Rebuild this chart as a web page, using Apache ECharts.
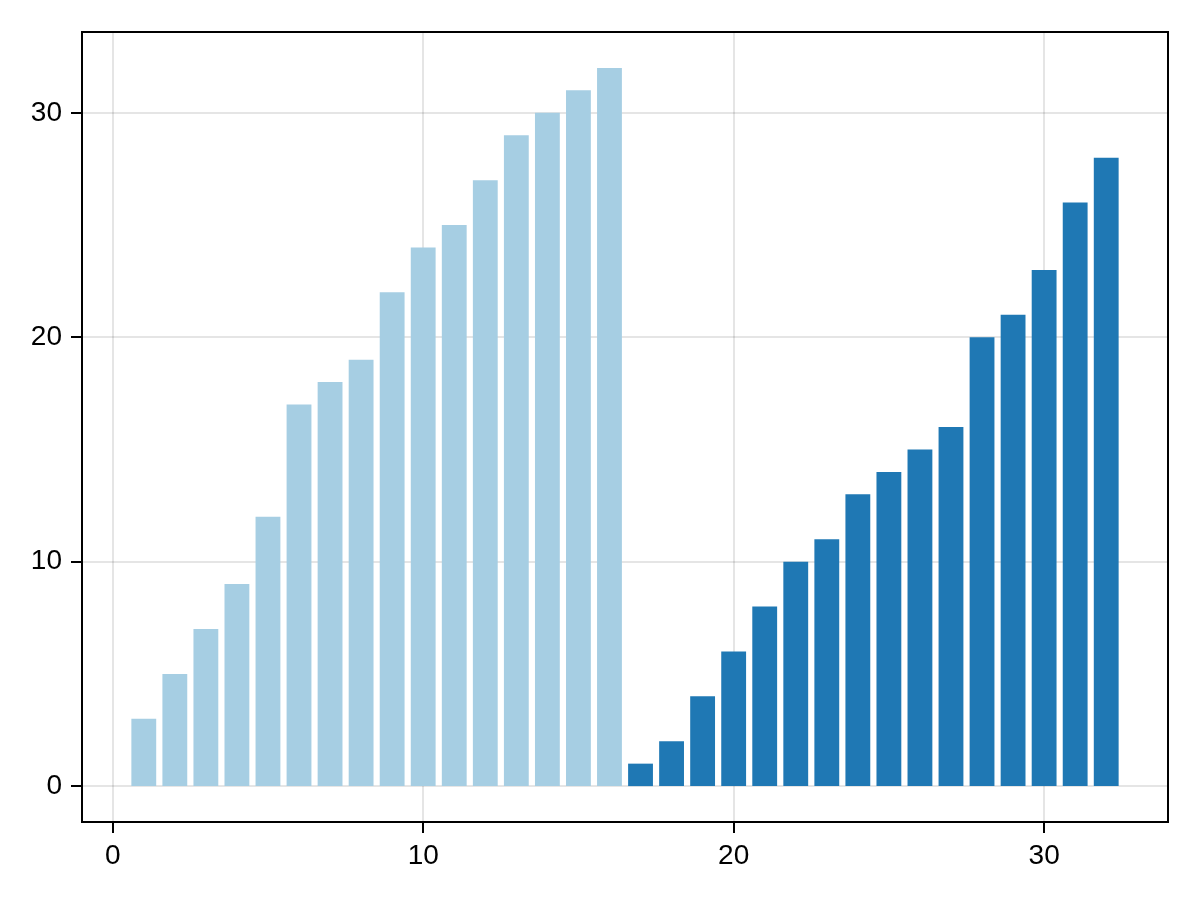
<!DOCTYPE html>
<html>
<head>
<meta charset="utf-8">
<script src="https://cdn.jsdelivr.net/npm/echarts@6/dist/echarts.min.js"></script>
<style>
html, body { margin: 0; padding: 0; background: #fff; }
#chart { width: 1200px; height: 900px; }
</style>
</head>
<body>
<div id="chart"></div>
<script>
// bar positions and heights
var xFirst = [1, 2, 3, 4, 5, 6, 7, 8, 9, 10, 11, 12, 13, 14, 15, 16];
var valuesFirst = [3, 5, 7, 9, 12, 17, 18, 19, 22, 24, 25, 27, 29, 30, 31, 32];
var xSecond = [17, 18, 19, 20, 21, 22, 23, 24, 25, 26, 27, 28, 29, 30, 31, 32];
var valuesSecond = [1, 2, 4, 6, 8, 10, 11, 13, 14, 15, 16, 20, 21, 23, 26, 28];
var xTicks = [0, 10, 20, 30];
var yTicks = [0, 10, 20, 30];

var barWidth = 0.8;

function pairs(xs, ys) {
	return xs.map(function(x, i) { return [x, ys[i]]; });
}

// 柱子用custom画，宽度按数据单位
function renderBar(params, api) {
	var x = api.value(0);
	var y = api.value(1);
	var p0 = api.coord([x - barWidth / 2, y]);
	var p1 = api.coord([x + barWidth / 2, 0]);
	return {
		type : 'rect',
		shape : { x : p0[0], y : p0[1], width : p1[0] - p0[0], height : p1[1] - p0[1] },
		style : { fill : api.visual('color') }
	};
}

var myChart = echarts.init(document.getElementById('chart'), null, { renderer : 'canvas' });

var option = {
	animation : false,
	backgroundColor : '#fff',
	grid : {
		left : 82, right : 32, top : 32, bottom : 78,
		show : true, borderColor : '#000', borderWidth : 2, backgroundColor : 'transparent'
	},
	xAxis : {
		type : 'value',
		min : -0.99,
		max : 33.99,
		axisLine : { show : false, onZero : false },
		axisTick : { show : true, inside : false, length : 11, lineStyle : { color : '#000', width : 2 }, customValues : xTicks },
		axisLabel : {
			customValues : xTicks,
			margin : 20,
			fontFamily : 'Liberation Sans',
			fontSize : 28,
			color : '#000'
		},
		splitLine : { show : true, lineStyle : { color : 'rgba(0,0,0,0.1)', width : 2 } }
	},
	yAxis : {
		type : 'value',
		min : -1.6,
		max : 33.6,
		axisLine : { show : false, onZero : false },
		axisTick : { show : true, inside : false, length : 11, lineStyle : { color : '#000', width : 2 }, customValues : yTicks },
		axisLabel : {
			customValues : yTicks,
			margin : 20,
			fontFamily : 'Liberation Sans',
			fontSize : 28,
			color : '#000'
		},
		splitLine : { show : true, lineStyle : { color : 'rgba(0,0,0,0.1)', width : 2 } }
	},
	series : [ {
		type : 'custom',
		name : 'first',
		renderItem : renderBar,
		itemStyle : { color : '#a6cee3' },
		encode : { x : 0, y : 1 },
		data : pairs(xFirst, valuesFirst),
		z : 3
	}, {
		type : 'custom',
		name : 'second',
		renderItem : renderBar,
		itemStyle : { color : '#1f78b4' },
		encode : { x : 0, y : 1 },
		data : pairs(xSecond, valuesSecond),
		z : 3
	} ]
};

myChart.setOption(option);
</script>
</body>
</html>
